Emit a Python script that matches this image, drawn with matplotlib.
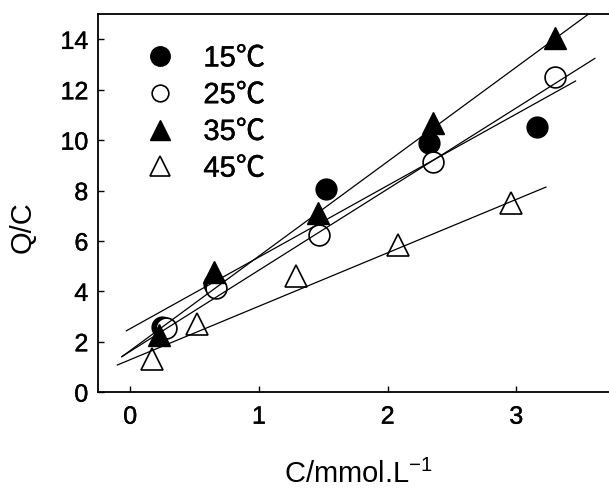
import numpy as np
import matplotlib
matplotlib.use("Agg")
import matplotlib.pyplot as plt
import matplotlib.patheffects as pe
from matplotlib.lines import Line2D

plt.rcParams['font.family'] = ['Liberation Sans', 'Noto Sans CJK SC', 'DejaVu Sans']
plt.rcParams['mathtext.fontset'] = 'custom'
plt.rcParams['mathtext.rm'] = 'Liberation Sans'
plt.rcParams['mathtext.it'] = 'Liberation Sans'

# adsorption data, C in mmol/L, Q/C
labels = ['15℃', '25℃', '35℃', '45℃']
c_15 = [0.25, 0.65, 1.52, 2.32, 3.16]
qc_15 = [2.6, 4.3, 8.05, 9.9, 10.52]
c_25 = [0.28, 0.67, 1.47, 2.35, 3.30]
qc_25 = [2.55, 4.15, 6.25, 9.15, 12.5]
c_35 = [0.22, 0.65, 1.46, 2.35, 3.30]
qc_35 = [2.25, 4.75, 7.1, 10.7, 14.05]
c_45 = [0.17, 0.52, 1.29, 2.08, 2.96]
qc_45 = [1.3, 2.7, 4.6, 5.85, 7.5]

# linear fits: intercept, slope, x range
fit_b = [2.52, 1.62, 1.65, 1.29]
fit_k = [2.84, 3.22, 3.75, 2.12]
fit_x0 = [-0.03, -0.065, -0.065, -0.10]
fit_x1 = [3.46, 3.61, 3.60, 3.23]

xticks = [0, 1, 2, 3]
yticks = [0, 2, 4, 6, 8, 10, 12, 14]

# slightly heavier text strokes
heavy = [pe.withStroke(linewidth=0.3, foreground='black')]

fig = plt.figure(figsize=(6.09, 4.89), dpi=100)
ax = fig.add_axes([0.161, 0.196, 0.839, 0.773])

ms = 15
ax.plot(c_15, qc_15, 'o', ms=ms, mfc='black', mec='black', zorder=2)
ax.plot(c_25, qc_25, 'o', ms=ms, mfc='white', mec='black', mew=1.2, zorder=3)
ax.plot(c_35, qc_35, '^', ms=ms + 1, mfc='black', mec='black', zorder=4)
ax.plot(c_45, qc_45, '^', ms=ms + 1, mfc='white', mec='black', mew=1.2, zorder=3)

for b, k, x0, x1 in zip(fit_b, fit_k, fit_x0, fit_x1):
    xx = np.array([x0, x1])
    ax.plot(xx, b + k * xx, color='black', lw=0.9, zorder=5)

ax.set_xlim(-0.25, 3.72)
ax.set_ylim(0, 15)
ax.set_xticks(xticks)
ax.set_yticks(yticks)
ax.tick_params(direction='in', length=4, width=1.0, labelsize=18, pad=7)
ax.tick_params(axis='x', pad=9)
ax.spines['right'].set_visible(False)
for s in ['left', 'bottom', 'top']:
    ax.spines[s].set_linewidth(1.3)
for t in ax.get_xticklabels() + ax.get_yticklabels():
    t.set_path_effects(heavy)

ax.set_xlabel('C/mmol.L$^{-1}$', fontsize=21)
ax.set_ylabel('Q/C', fontsize=21)
ax.xaxis.set_label_coords(0.51, -0.175)
ax.yaxis.set_label_coords(-0.12, 0.44)

handles = [
    Line2D([], [], ls='none', marker='o', ms=ms - 1, mfc='black', mec='black'),
    Line2D([], [], ls='none', marker='o', ms=ms - 3, mfc='white', mec='black', mew=1.2),
    Line2D([], [], ls='none', marker='^', ms=ms, mfc='black', mec='black'),
    Line2D([], [], ls='none', marker='^', ms=ms, mfc='white', mec='black', mew=1.2),
]
leg = ax.legend(handles, labels, loc='upper left', bbox_to_anchor=(0.092, 0.92),
                frameon=False, fontsize=21, handlelength=1.0, handletextpad=1.0,
                labelspacing=0.3, borderpad=0, borderaxespad=0)
for t in leg.get_texts():
    t.set_path_effects(heavy)

fig.savefig('out.png', dpi=100)
